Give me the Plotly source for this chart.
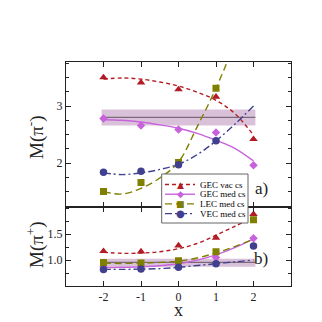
import plotly.graph_objects as go
from plotly.subplots import make_subplots

# ---------------- data ----------------
x_pts = [-2, -1, 0, 1, 2]
x_curve = [-2, -1.5, -1, -0.5, 0, 0.5, 1, 1.5, 2]

# panel a) M(pi-)
gec_vac_a = [3.50, 3.41, 3.29, 3.16, 2.42]
gec_med_a = [2.78, 2.66, 2.59, 2.535, 1.965]
lec_med_a = [1.505, 1.66, 2.01, 3.31, None]
vec_med_a = [1.84, 1.86, 1.97, 2.39, None]

gec_vac_a_fit = [3.47, 3.49, 3.47, 3.42, 3.35, 3.24, 3.10, 2.87, 2.49]
gec_med_a_fit = [2.76, 2.75, 2.72, 2.67, 2.61, 2.52, 2.40, 2.26, 2.04]
lec_med_a_fit = [1.50, 1.46, 1.56, 1.74, 2.02, 2.64, 3.31, 4.10, None]
vec_med_a_fit = [1.83, 1.80, 1.83, 1.89, 1.98, 2.15, 2.39, 2.68, 3.00]

# panel b) M(pi+)
gec_vac_b = [1.17, 1.165, 1.28, 1.43, 1.885]
gec_med_b = [0.87, 0.875, 0.96, 1.05, 1.42]
lec_med_b = [0.955, 0.945, 0.985, 1.16, 1.775]
vec_med_b = [0.82, 0.83, 0.86, 0.93, 1.27]

gec_vac_b_fit = [1.15, 1.13, 1.135, 1.16, 1.22, 1.32, 1.48, 1.65, 1.83]
gec_med_b_fit = [0.855, 0.86, 0.87, 0.89, 0.93, 1.00, 1.10, 1.24, 1.41]
lec_med_b_fit = [0.94, 0.935, 0.94, 0.955, 0.98, 1.04, 1.14, 1.26, 1.40]
vec_med_b_fit = [0.82, 0.82, 0.825, 0.835, 0.86, 0.895, 0.93, 0.965, 1.00]

# experimental bands
band_x = [-2.05, 2.05]
band_a_mid, band_a_lo, band_a_hi = 2.80, 2.66, 2.94
band_b_mid, band_b_lo, band_b_hi = 0.955, 0.87, 1.025

series_names = ["GEC vac cs", "GEC med cs", "LEC med cs", "VEC med cs"]
x_ticks = [-2, -1, 0, 1, 2]
x_ticklabels = ["-2", "-1", "0", "1", "2"]
ya_ticks, ya_ticklabels = [2, 3], ["2", "3"]
yb_ticks, yb_ticklabels = [1.0, 1.5], ["1.0", "1.5"]

# ---------------- styles ----------------
FONT = "Liberation Serif"
colors = ["#b31b24", "#c862dc", "#7f7f00", "#40408f"]
symbols = ["triangle-up", "diamond", "square", "circle"]
glyphs = ["▲", "◆", "■", "●"]
glyph_sizes = [9, 9, 9, 10]
msizes = [7.5, 6.5, 7, 7.5]
dashes = ["4px,3px", "solid", "7px,4px", "7px,3px,2px,3px"]
BAND_FILL = "rgba(170,120,170,0.45)"
BAND_LINE = "#7a6a7a"
INK = "#222222"

fig = make_subplots(rows=2, cols=1, shared_xaxes=True, vertical_spacing=0,
                    row_heights=[0.648, 0.352])

panels = [
    (1, [gec_vac_a, gec_med_a, lec_med_a, vec_med_a],
        [gec_vac_a_fit, gec_med_a_fit, lec_med_a_fit, vec_med_a_fit],
        (band_a_mid, band_a_lo, band_a_hi)),
    (2, [gec_vac_b, gec_med_b, lec_med_b, vec_med_b],
        [gec_vac_b_fit, gec_med_b_fit, lec_med_b_fit, vec_med_b_fit],
        (band_b_mid, band_b_lo, band_b_hi)),
]

for row, pts, fits, (bm, bl, bh) in panels:
    fig.add_trace(go.Scatter(x=band_x, y=[bl, bl], mode="lines",
                             line=dict(width=0), showlegend=False,
                             hoverinfo="skip"), row=row, col=1)
    fig.add_trace(go.Scatter(x=band_x, y=[bh, bh], mode="lines",
                             line=dict(width=0), fill="tonexty",
                             fillcolor=BAND_FILL, showlegend=False,
                             hoverinfo="skip"), row=row, col=1)
    fig.add_trace(go.Scatter(x=band_x, y=[bm, bm], mode="lines",
                             line=dict(width=1.2, color=BAND_LINE),
                             showlegend=False), row=row, col=1)
    for i in range(4):
        fig.add_trace(go.Scatter(x=x_curve, y=fits[i], mode="lines",
                                 line=dict(color=colors[i], width=1.4,
                                           dash=dashes[i], shape="spline",
                                           smoothing=1.0),
                                 showlegend=False), row=row, col=1)
    for i in range(4):
        fig.add_trace(go.Scatter(x=x_pts, y=pts[i], mode="markers",
                                 marker=dict(color=colors[i], symbol=symbols[i],
                                             size=msizes[i], line=dict(width=0)),
                                 showlegend=False), row=row, col=1)

# ---------------- layout geometry (screen pixels of the plot area) ----------------
PAGE_OFFSET = 8          # body margin of the html page
PL, PR, PT, PB = 66, 291, 62, 286
W = H = 322 - PAGE_OFFSET


def px(x):
    return (x - PL) / (PR - PL)


def py(y):
    return (PB - y) / (PB - PT)


# ---------------- compact legend (shapes + annotations) ----------------
LEG_BOX_X = [161.7, 248.0]
LEG_BOX_Y = [174.0, 223.0]
LEG_ROWS = [184.5, 194.2, 203.9, 213.6]
LEG_LINE_X = [165.0, 195.0]
LEG_MARK_X = 180.0
LEG_TEXT_X = 198.0

fig.add_shape(type="rect", xref="paper", yref="paper",
              x0=px(LEG_BOX_X[0]), x1=px(LEG_BOX_X[1]),
              y0=py(LEG_BOX_Y[1]), y1=py(LEG_BOX_Y[0]),
              fillcolor="white", line=dict(color="#666666", width=1),
              layer="above")
for i in range(4):
    fig.add_shape(type="line", xref="paper", yref="paper",
                  x0=px(LEG_LINE_X[0]), x1=px(LEG_LINE_X[1]),
                  y0=py(LEG_ROWS[i]), y1=py(LEG_ROWS[i]),
                  line=dict(color=colors[i], width=1.4, dash=dashes[i]),
                  layer="above")
    fig.add_annotation(x=px(LEG_MARK_X), y=py(LEG_ROWS[i]), xref="paper", yref="paper",
                       text=glyphs[i], showarrow=False, xanchor="center",
                       yanchor="middle",
                       font=dict(family="DejaVu Sans", size=glyph_sizes[i],
                                 color=colors[i]))
    fig.add_annotation(x=px(LEG_TEXT_X), y=py(LEG_ROWS[i]), xref="paper", yref="paper",
                       text=series_names[i], showarrow=False,
                       xanchor="left", yanchor="middle",
                       font=dict(family=FONT, size=9, color="black"))

axis_common = dict(showline=True, linecolor=INK, linewidth=1,
                   mirror="allticks", ticks="inside", ticklen=5,
                   tickcolor=INK, showgrid=False, zeroline=False,
                   automargin=False,
                   tickfont=dict(family=FONT, size=12, color=INK))

fig.update_xaxes(range=[-3, 3], tickvals=x_ticks, ticktext=x_ticklabels,
                 **axis_common)

minor_y = dict(dtick=0.25, tick0=0, ticks="inside", ticklen=3,
               tickcolor=INK, showgrid=False)
fig.update_yaxes(range=[1.23, 3.77], tickvals=ya_ticks, ticktext=ya_ticklabels,
                 minor=minor_y, row=1, col=1, **axis_common)
fig.update_yaxes(range=[0.5, 2.02], tickvals=yb_ticks, ticktext=yb_ticklabels,
                 minor=minor_y, row=2, col=1, **axis_common)

# axis titles
fig.add_annotation(x=px(178.5), y=py(321.5), xref="paper", yref="paper",
                   text="x", showarrow=False, xanchor="center", yanchor="bottom",
                   font=dict(family=FONT, size=18, color=INK))
fig.add_annotation(x=px(35), y=py(137), xref="paper", yref="paper",
                   text="M(π<sup>-</sup>)", textangle=-90, showarrow=False,
                   xanchor="center", yanchor="middle",
                   font=dict(family=FONT, size=19, color=INK))
fig.add_annotation(x=px(35), y=py(245), xref="paper", yref="paper",
                   text="M(π<sup>+</sup>)", textangle=-90, showarrow=False,
                   xanchor="center", yanchor="middle",
                   font=dict(family=FONT, size=19, color=INK))

# panel labels
fig.add_annotation(x=px(270), y=py(188), xref="paper", yref="paper", text="a)",
                   showarrow=False, font=dict(family=FONT, size=17, color=INK))
fig.add_annotation(x=px(270), y=py(270), xref="paper", yref="paper", text="b)",
                   showarrow=False, font=dict(family=FONT, size=17, color=INK))

fig.update_layout(
    template="none",
    width=W, height=H,
    margin=dict(l=PL - PAGE_OFFSET, r=W - (PR - PAGE_OFFSET),
                t=PT - PAGE_OFFSET, b=H - (PB - PAGE_OFFSET)),
    paper_bgcolor="white", plot_bgcolor="rgba(0,0,0,0)",
    showlegend=False,
    font=dict(family=FONT, color=INK),
)

fig.write_html("out.html")
